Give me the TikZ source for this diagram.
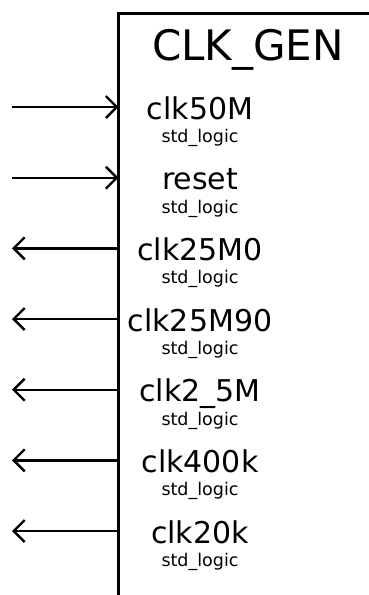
\documentclass[tikz,border=0pt]{standalone}
\usepackage{fontspec}
\setmainfont{DejaVu Sans}
\usetikzlibrary{arrows.meta}
\usetikzlibrary{positioning}

\begin{document}
\begin{tikzpicture}[x=1pt, y=1pt,
    portname/.style={inner sep=0pt, text height=24pt, text depth=0pt, font=\fontsize{30}{30}\selectfont},
    porttype/.style={inner sep=0pt, text height=14pt, text depth=4pt, font=\fontsize{17.5}{18}\selectfont, below=9pt of #1},
    pin/.style={line width=2.4pt, -{Straight Barb[length=11pt, width=22pt, line width=2.4pt]}}]
    \useasboundingbox (0,0) rectangle (369,-595);

    % block outline, open at the right and bottom
    \coordinate (edge) at (118.5,0);
    \coordinate (outer) at (12,0);
    \draw [line width=2.6pt] (118.5,-595) -- (118.5,-13.5) -- (369,-13.5);
    \node [inner sep=0pt, anchor=base, font=\fontsize{42}{42}\selectfont] (title) at (248,-60) {CLK\_GEN};

    % ports
    \node [portname] (clk50M) at (200,-107) {clk50M};
    \node [porttype=clk50M] (clk50Mtype) {std\_logic};
    \node [portname] (reset) at (200,-177.7) {reset};
    \node [porttype=reset] (resettype) {std\_logic};
    \node [portname] (clk25M0) at (200,-248.3) {clk25M0};
    \node [porttype=clk25M0] (clk25M0type) {std\_logic};
    \node [portname] (clk25M90) at (200,-319) {clk25M90};
    \node [porttype=clk25M90] (clk25M90type) {std\_logic};
    \node [portname] (clk2_5M) at (200,-389.7) {clk2\_5M};
    \node [porttype=clk2_5M] (clk2_5Mtype) {std\_logic};
    \node [portname] (clk400k) at (200,-460.3) {clk400k};
    \node [porttype=clk400k] (clk400ktype) {std\_logic};
    \node [portname] (clk20k) at (200,-531) {clk20k};
    \node [porttype=clk20k] (clk20ktype) {std\_logic};

    % inputs
    \draw [pin] (clk50M.west -| outer) -- (clk50M.west -| edge);
    \draw [pin] (reset.west -| outer) -- (reset.west -| edge);
    % outputs
    \draw [pin] (clk25M0.west -| edge) -- (clk25M0.west -| outer);
    \draw [pin] (clk25M90.west -| edge) -- (clk25M90.west -| outer);
    \draw [pin] (clk2_5M.west -| edge) -- (clk2_5M.west -| outer);
    \draw [pin] (clk400k.west -| edge) -- (clk400k.west -| outer);
    \draw [pin] (clk20k.west -| edge) -- (clk20k.west -| outer);
\end{tikzpicture}
\end{document}
